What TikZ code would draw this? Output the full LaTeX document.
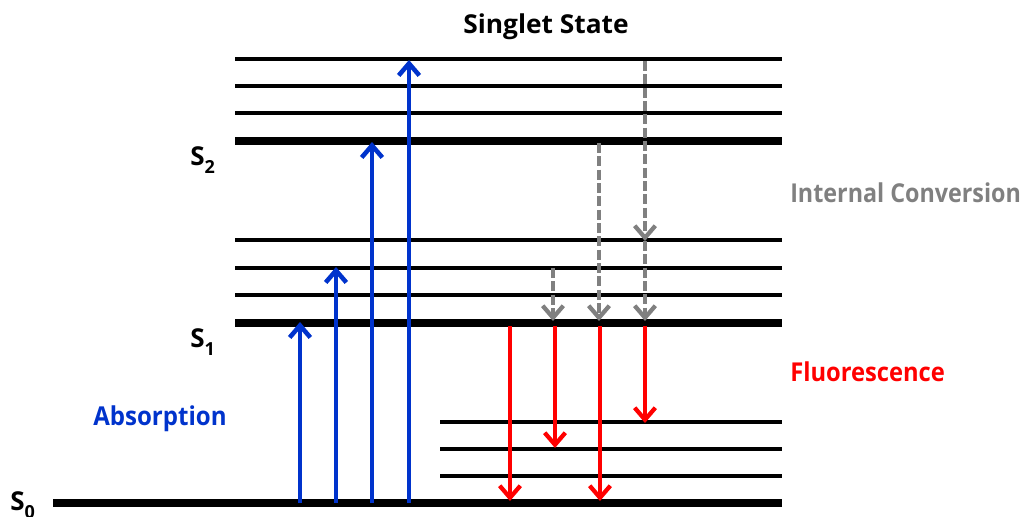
\documentclass[tikz,border=0pt]{standalone}
\usepackage{fontspec}
\usepackage{graphicx}
\setmainfont{Open Sans}
\usetikzlibrary{arrows.meta}
\definecolor{absblue}{RGB}{0,51,204}
\definecolor{fluored}{RGB}{255,0,0}
\definecolor{icgray}{RGB}{128,128,128}
\tikzset{
  level/.style={line width=3pt, black},
  mainlevel/.style={line width=5.6pt, black},
  tipstyle/.style={-{Straight Barb[length=9pt,width=15.5pt]}},
  absarrow/.style={line width=3.4pt, absblue, tipstyle},
  fluoarrow/.style={line width=3.2pt, fluored, tipstyle},
  icarrow/.style={line width=3.2pt, icgray, dash pattern=on 7.5pt off 2.5pt, tipstyle},
  label/.style={inner sep=0pt, font=\bfseries\fontsize{19.5pt}{22pt}\selectfont},
}
% text squeezed horizontally to a given width, height kept
\newcommand{\fitw}[2]{\resizebox{#1}{\height}{#2}}
\newcommand{\lvlname}[1]{S\raisebox{-6pt}{\fontsize{13.5pt}{15pt}\selectfont #1}}
\begin{document}
\begin{tikzpicture}[x=0.75pt,y=-0.75pt]
\useasboundingbox (0,0) rectangle (1028,517);

% energy levels of S2
\draw[level] (235,59) -- (782,59);
\draw[level] (235,86) -- (782,86);
\draw[level] (235,113) -- (782,113);
\draw[mainlevel] (235,141) -- (782,141);
% energy levels of S1
\draw[level] (235,240) -- (782,240);
\draw[level] (235,268) -- (782,268);
\draw[level] (235,295) -- (782,295);
\draw[mainlevel] (235,323) -- (782,323);
% energy levels of S0
\draw[level] (440,422) -- (782,422);
\draw[level] (440,449) -- (782,449);
\draw[level] (440,476) -- (782,476);
\draw[mainlevel] (53,503) -- (782,503);

% labels
\node[label, anchor=base] (title) at (546,34) {\fitw{124pt}{Singlet State}};
\node[label, anchor=base west] (s2) at (190,165) {\lvlname{2}};
\node[label, anchor=base west] (s1) at (190,347) {\lvlname{1}};
\node[label, anchor=base west] (s0) at (10,510) {\lvlname{0}};
\node[label, anchor=base west, text=icgray] (ic) at (790,202) {\fitw{173pt}{Internal Conversion}};
\node[label, anchor=base west, text=fluored] (fl) at (790,381) {\fitw{116pt}{Fluorescence}};
\node[label, anchor=base west, text=absblue] (ab) at (93,425) {\fitw{100pt}{Absorption}};

% absorption
\coordinate (a1s) at (300,503); \coordinate (a1e) at (300,322);
\coordinate (a2s) at (336,503); \coordinate (a2e) at (336,267);
\coordinate (a3s) at (372,503); \coordinate (a3e) at (372,142);
\coordinate (a4s) at (409,503); \coordinate (a4e) at (409,60);
\draw[absarrow] (a1s) -- (a1e);
\draw[absarrow] (a2s) -- (a2e);
\draw[absarrow] (a3s) -- (a3e);
\draw[absarrow] (a4s) -- (a4e);

% internal conversion
\coordinate (i1s) at (553,268); \coordinate (i1e) at (553,321);
\coordinate (i2s) at (599,143); \coordinate (i2e) at (599,321);
\coordinate (i3s) at (645,61);  \coordinate (i3e) at (645,241);
\coordinate (i4s) at (645,241); \coordinate (i4e) at (645,321);
\draw[icarrow] (i1s) -- (i1e);
\draw[icarrow] (i2s) -- (i2e);
\draw[icarrow] (i3s) -- (i3e);
\draw[icarrow] (i4s) -- (i4e);

% fluorescence
\coordinate (f1s) at (510,326); \coordinate (f1e) at (510,501);
\coordinate (f2s) at (555,326); \coordinate (f2e) at (555,448);
\coordinate (f3s) at (600,326); \coordinate (f3e) at (600,501);
\coordinate (f4s) at (645,326); \coordinate (f4e) at (645,423);
\draw[fluoarrow] (f1s) -- (f1e);
\draw[fluoarrow] (f2s) -- (f2e);
\draw[fluoarrow] (f3s) -- (f3e);
\draw[fluoarrow] (f4s) -- (f4e);
\end{tikzpicture}
\end{document}
